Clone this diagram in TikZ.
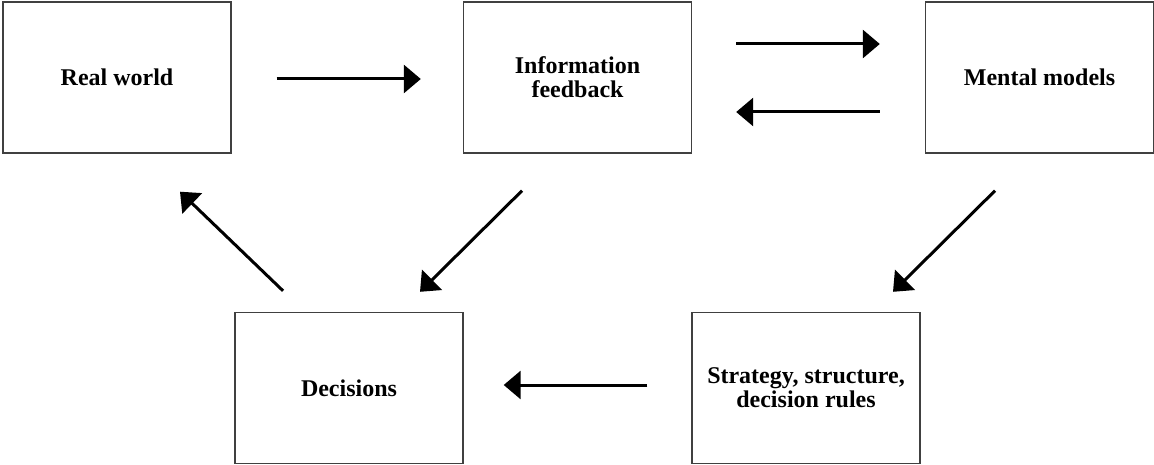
\documentclass[tikz,border=0pt]{standalone}
\usepackage{fontspec}
\setmainfont{Liberation Serif}
\usetikzlibrary{arrows.meta}
\begin{document}
\begin{tikzpicture}[x=1pt,y=-1pt,
  block/.style={draw=black!75, line width=1.4pt, fill=white, rectangle,
    minimum width=228pt, minimum height=151pt, inner sep=0pt,
    align=center, font=\fontsize{24}{24}\selectfont\bfseries},
  flow/.style={line width=3pt, draw=black,
    -{Triangle[length=17pt,width=28pt]}}]
\useasboundingbox (0,0) rectangle (1154,465);

% the five stages of the loop
\node[block] (rw)    at (117,77.5)   {Real world};
\node[block] (info)  at (577.5,77.5) {Information\\feedback};
\node[block] (mm)    at (1039.5,77.5){Mental models};
\node[block] (dec)   at (349,388)    {Decisions};
\node[block] (strat) at (806,388)    {Strategy, structure,\\decision rules};

% connectors between the stages
\draw[flow] ([shift={(45,1.5)}]rw.east) -- ([shift={(-42,1.5)}]info.west);
\draw[flow] ([shift={(44,-33.5)}]info.east) -- ([shift={(-45,-33.5)}]mm.west);
\draw[flow] ([shift={(-45,34.5)}]mm.west) -- ([shift={(44,34.5)}]info.east);
\draw[flow] ([shift={(-55.5,37)}]info.south) -- ([shift={(71,-20)}]dec.north);
\draw[flow] ([shift={(-44.5,37)}]mm.south) -- ([shift={(87,-20)}]strat.north);
\draw[flow] ([shift={(-44,-3)}]strat.west) -- ([shift={(40,-3)}]dec.east);
\draw[flow] ([shift={(-66,-21)}]dec.north) -- ([shift={(63,38)}]rw.south);
\end{tikzpicture}
\end{document}
